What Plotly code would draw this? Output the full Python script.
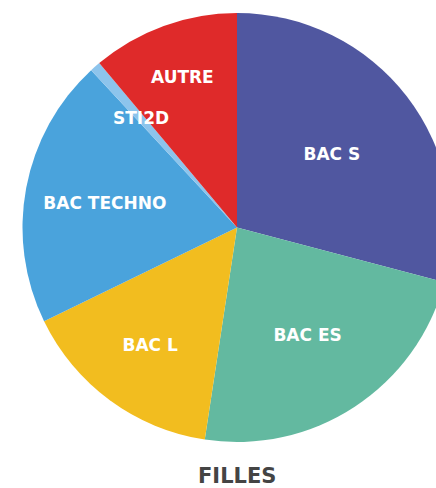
import math
import plotly.graph_objects as go

categories = ["BAC S", "BAC ES", "BAC L", "BAC TECHNO", "STI2D", "AUTRE"]
values = [29.1, 23.3, 15.4, 20.3, 0.8, 11.1]
colors = ["#5057a0", "#63b9a0", "#f2bd1f", "#4aa3dc", "#8dc4ec", "#df2a2a"]
title = "FILLES"

W, H = 474, 488
MT, MB = 13, 46
FONT = "DejaVu Sans"

# the tiny STI2D slice gets its label as an annotation, placed from the data angle
small = "STI2D"
texts = ["" if c == small else c for c in categories]

fig = go.Figure(go.Pie(
    labels=categories,
    values=values,
    text=texts,
    sort=False,
    direction="clockwise",
    rotation=0,
    marker=dict(colors=colors, line=dict(width=0)),
    textinfo="text",
    textposition="inside",
    insidetextorientation="horizontal",
    textfont=dict(family=FONT, size=17, color="white", weight="bold"),
    hoverinfo="label+percent",
    domain=dict(x=[0, 1], y=[0, 1]),
))

# angle of the small slice's middle
total = sum(values)
i = categories.index(small)
mid = (sum(values[:i]) + values[i] / 2) / total * 2 * math.pi
R = (H - MT - MB) / 2
frac = 0.68
ax = 0.5 + frac * R * math.sin(mid) / W
ay = 0.5 + frac * R * math.cos(mid) / (H - MT - MB)

fig.update_layout(
    width=W,
    height=H,
    margin=dict(l=0, r=0, t=MT, b=MB),
    showlegend=False,
    paper_bgcolor="white",
    uniformtext=dict(minsize=17, mode="show"),
    annotations=[
        dict(text=small, x=ax, y=ay, xref="paper", yref="paper",
             xanchor="center", yanchor="middle", showarrow=False,
             font=dict(family=FONT, size=17, color="white", weight="bold")),
        dict(text=title, x=0.5, y=0, xref="paper", yref="paper",
             xanchor="center", yanchor="top", yshift=-20, showarrow=False,
             font=dict(family=FONT, size=21, color="#444444", weight="bold")),
    ],
)

fig.write_html(
    "out.html",
    config={"displayModeBar": False},
    post_script="document.body.style.margin='0';document.body.style.overflow='hidden';document.documentElement.style.overflow='hidden';",
)
